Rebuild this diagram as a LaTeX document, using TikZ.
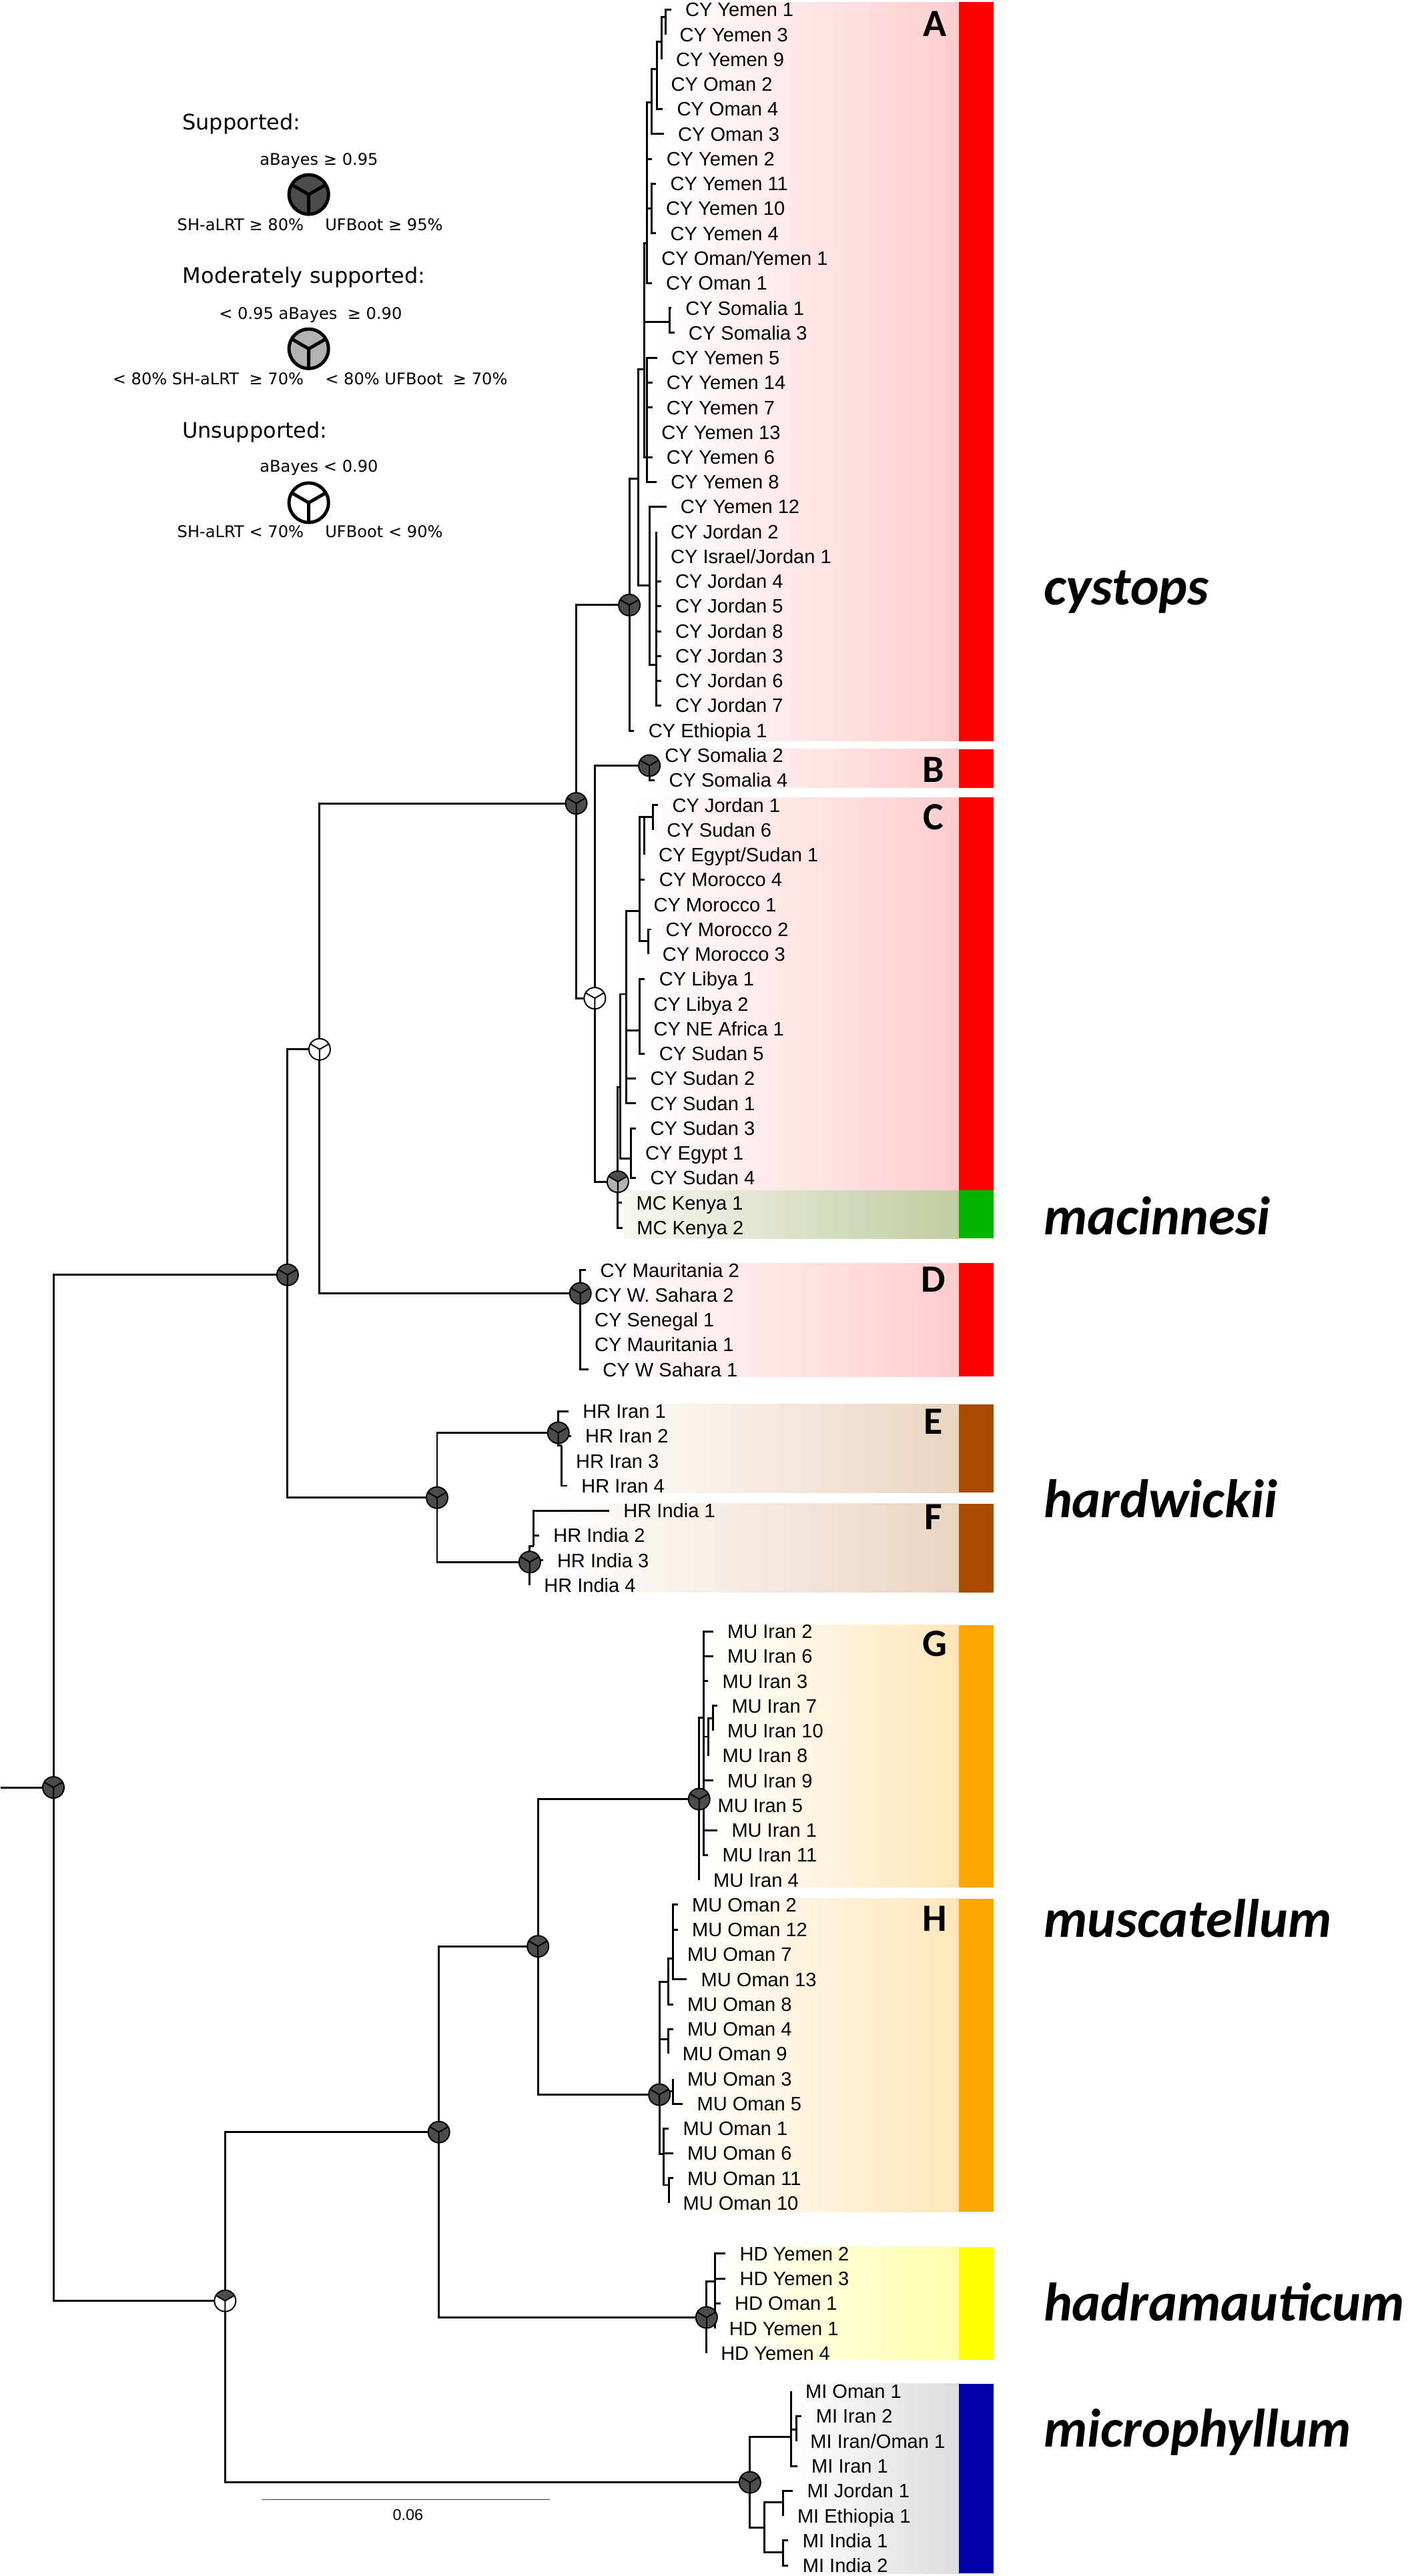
\documentclass[tikz,border=0pt]{standalone}
\usepackage{fontspec}
\setmainfont{Liberation Sans}
\newfontfamily\legfont{DejaVu Sans}
\newfontfamily\calfont{Carlito}
\definecolor{cyband}{RGB}{255,204,206}
\definecolor{mcband}{RGB}{192,204,160}
\definecolor{hrband}{RGB}{234,212,194}
\definecolor{muband}{RGB}{255,230,185}
\definecolor{hdband}{RGB}{255,255,170}
\definecolor{miband}{RGB}{220,220,220}
\definecolor{cybar}{RGB}{255,0,0}
\definecolor{mcbar}{RGB}{0,180,0}
\definecolor{hrbar}{RGB}{170,75,0}
\definecolor{mubar}{RGB}{255,165,0}
\definecolor{hdbar}{RGB}{255,255,0}
\definecolor{mibar}{RGB}{0,0,170}
\colorlet{suphigh}{black!70}
\colorlet{supmid}{black!30}
% support symbol: coordinate, radius, top, left, right, line width
\newcommand{\supnode}[6]{%
  \fill[#3] (#1) -- ++(30:#2) arc[start angle=30,end angle=150,radius=#2] -- cycle;
  \fill[#4] (#1) -- ++(150:#2) arc[start angle=150,end angle=270,radius=#2] -- cycle;
  \fill[#5] (#1) -- ++(270:#2) arc[start angle=270,end angle=390,radius=#2] -- cycle;
  \draw[line width=#6] (#1) circle[radius=#2] (#1) -- ++(30:#2) (#1) -- ++(150:#2) (#1) -- ++(270:#2);}
\begin{document}
\begin{tikzpicture}[x=1pt,y=-1pt,
  branch/.style={line width=1.2pt},
  leaflab/.style={anchor=west,inner sep=0pt,text height=8.4pt,text depth=0pt,font=\fontsize{11.8}{12}\selectfont},
  legtext/.style={inner sep=0pt,font=\legfont\fontsize{9.8}{10}\selectfont},
  leghead/.style={anchor=base west,inner sep=0pt,font=\legfont\fontsize{13}{14}\selectfont},
  cladeletter/.style={anchor=base,inner sep=0pt,font=\calfont\bfseries\fontsize{23.5}{24}\selectfont},
  species/.style={anchor=base west,inner sep=0pt,font=\calfont\bfseries\itshape\fontsize{33}{34}\selectfont}]
  \useasboundingbox (0,0) rectangle (864,1568);

  % Clade bands
  \shade[left color=white,right color=cyband] (400,1.4) rectangle (583.5,451.1);
  \shade[left color=white,right color=cyband] (400,456) rectangle (583.5,479.6);
  \shade[left color=white,right color=cyband] (385,485.3) rectangle (583.5,724.5);
  \shade[left color=mcband!15,right color=mcband] (380,724.5) rectangle (583.5,753.8);
  \shade[left color=white,right color=cyband] (358,768.8) rectangle (583.5,837.9);
  \shade[left color=white,right color=hrband] (348,854.8) rectangle (583.5,908.5);
  \shade[left color=white,right color=hrband] (330,915.2) rectangle (583.5,969.3);
  \shade[left color=white,right color=muband] (430,989.2) rectangle (583.5,1148.8);
  \shade[left color=white,right color=muband] (410,1155.6) rectangle (583.5,1346.4);
  \shade[left color=white,right color=hdband] (436,1367.6) rectangle (583.5,1436.5);
  \shade[left color=white,right color=miband] (480,1450.9) rectangle (583.5,1566.5);

  % Species bars
  \fill[cybar] (583.5,1.4) rectangle (604.8,451.1);
  \fill[cybar] (583.5,456) rectangle (604.8,479.6);
  \fill[cybar] (583.5,485.3) rectangle (604.8,724.5);
  \fill[mcbar] (583.5,724.5) rectangle (604.8,753.8);
  \fill[cybar] (583.5,768.8) rectangle (604.8,837.9);
  \fill[hrbar] (583.5,854.8) rectangle (604.8,908.5);
  \fill[hrbar] (583.5,915.2) rectangle (604.8,969.3);
  \fill[mubar] (583.5,989.2) rectangle (604.8,1148.8);
  \fill[mubar] (583.5,1155.6) rectangle (604.8,1346.4);
  \fill[hdbar] (583.5,1367.6) rectangle (604.8,1436.5);
  \fill[mibar] (583.5,1450.9) rectangle (604.8,1566.5);

  % Clade letters
  \node[cladeletter] (clA) at (568.8,22.3) {A};
  \node[cladeletter] (clB) at (568,476) {B};
  \node[cladeletter] (clC) at (568,504.9) {C};
  \node[cladeletter] (clD) at (568,786.5) {D};
  \node[cladeletter] (clE) at (568,872.9) {E};
  \node[cladeletter] (clF) at (568,931.1) {F};
  \node[cladeletter] (clG) at (569,1008.2) {G};
  \node[cladeletter] (clH) at (569,1175.3) {H};

  % Species names
  \node[species] (cys) at (635,368) {cystops};
  \node[species] (mac) at (635,751.5) {macinnesi};
  \node[species] (har) at (635,923.5) {hardwickii};
  \node[species] (mus) at (635,1179) {muscatellum};
  \node[species] (had) at (635,1412.5) {hadramauticum};
  \node[species] (mic) at (635,1489.5) {microphyllum};

  % Root
  \coordinate (stub) at (0.5,1088);
  \coordinate (n1) at (32.5,1088);
  \draw[branch] (stub) -- (n1);

  % Internal branches
  \foreach \p/\id/\x/\y in {
    n1/n2/175/776, n2/n3/194.5/638.7, n3/n4/350.7/489, n4/nA/383/368.3,
    nA/a1/388.4/291.5, a1/a2/392.2/224.8, a2/a3/393.9/147.9, a3/b1/396.6/62.4,
    b1/b2/399.7/42.1, b2/b3/402.7/25.5, b3/b4/405/10.2, a3/c1/396.6/127,
    a2/aS/407.7/195.8, a2/a4/393.9/278.4, a1/a5/395.5/356.2, a5/a6/399.5/404.6,
    n4/n11/362/607.6, n11/nB/395.2/466, n11/n12/376/719.3, n12/cC/377.3/661.7,
    cC/cC1/381/605.1, cC1/cC1a/389.1/554.7, cC1a/s1/392.2/497.1, s1/s1a/397.2/497.1,
    cC1a/s2/394.5/572.8, cC1/cC1b/389.1/627.4, cC/cC2/384.1/705.1,
    n3/nD/353.2/787.3, n2/n5/266/911.6, n5/nE/339.8/872.1, nE/e1/341.8/880,
    n5/nF/322.4/950.8, nF/f1/324.7/941,
    n1/n17/137/1400.5, n17/n16/267.1/1297.8, n16/n13/327.4/1184.7,
    n13/nG/425.5/1095.1, nG/g1/428.1/1045.4, g1/g2/431/1057.1, g2/g3/434/1045.9,
    n13/nH/401.3/1275, nH/h1/406.7/1206.2, h1/h2/409.6/1192.2, nH/h3/406.7/1241.2,
    nH/h4/409.6/1273, nH/h5/404/1311, h5/h6/407/1330,
    n16/nHD/430/1410.6, nHD/hd1/435.1/1388.6,
    n17/nMI/456.4/1511, nMI/m1/481.5/1483.5, m1/m2/484.5/1478.9,
    nMI/m3/465.1/1538.7, m3/m4/476.6/1523.1, m3/m5/476.4/1553.5}{
    \coordinate (\id) at (\x,\y);
    \draw[branch] (\p) |- (\id);
  }

  % Tips and labels
  \foreach \p/\id/\x/\y/\txt in {
    b4/tA1/408.4/5.9/CY Yemen 1, b4/tA2/405/21/CY Yemen 3, b3/tA3/402.7/36.2/CY Yemen 9,
    b2/tA4/399.7/51.3/CY Oman 2, b2/tA5/403.3/66.4/CY Oman 4, b1/tA6/404/81.6/CY Oman 3,
    a3/tA7/396.9/96.7/CY Yemen 2, c1/tA8/399.3/111.8/CY Yemen 11, c1/tA9/396.6/126.9/CY Yemen 10,
    c1/tA10/399.3/142.1/CY Yemen 4, a3/tA11/393.9/157.2/{CY Oman/Yemen 1}, a3/tA12/396.6/172.3/CY Oman 1,
    aS/tA13/408.5/187.5/CY Somalia 1, aS/tA14/410.4/202.6/CY Somalia 3,
    a4/tA15/400/217.7/CY Yemen 5, a4/tA16/397/232.9/CY Yemen 14, a4/tA17/397/248/CY Yemen 7,
    a4/tA18/393.9/263.1/CY Yemen 13, a4/tA19/397/278.2/CY Yemen 6, a4/tA20/399.6/293.4/CY Yemen 8,
    a5/tA21/405.5/308.5/CY Yemen 12, a6/tA22/399.5/323.6/CY Jordan 2, a6/tA23/399.5/338.8/{CY Israel/Jordan 1},
    a6/tA24/402.3/353.9/CY Jordan 4, a6/tA25/402.3/369/CY Jordan 5, a6/tA26/402.3/384.2/CY Jordan 8,
    a6/tA27/402.3/399.3/CY Jordan 3, a6/tA28/402.3/414.4/CY Jordan 6, a6/tA29/402.3/429.5/CY Jordan 7,
    nA/tA30/386/444.7/CY Ethiopia 1,
    nB/tB1/395.9/459.8/CY Somalia 2, nB/tB2/398.5/474.9/CY Somalia 4,
    s1a/tC1/400.5/490.1/CY Jordan 1, s1a/tC2/397.2/505.2/CY Sudan 6, s1/tC3/392.2/520.3/{CY Egypt/Sudan 1},
    cC1a/tC4/392.5/535.5/CY Morocco 4, cC1a/tC5/389.1/550.6/CY Morocco 1,
    s2/tC6/396.4/565.7/CY Morocco 2, s2/tC7/394.5/580.8/CY Morocco 3,
    cC1b/tC8/392.5/596/CY Libya 1, cC1b/tC9/389.1/611.1/CY Libya 2,
    cC1b/tC10/389.1/626.2/CY NE Africa 1, cC1b/tC11/392.5/641.4/CY Sudan 5,
    cC1/tC12/387.1/656.5/CY Sudan 2, cC1/tC13/387.1/671.6/CY Sudan 1,
    cC2/tC14/387.1/686.8/CY Sudan 3, cC2/tC15/384.1/701.9/CY Egypt 1, cC2/tC16/387.1/717/CY Sudan 4,
    n12/tM1/378.6/732.1/MC Kenya 1, n12/tM2/378.9/747.3/MC Kenya 2,
    nD/tD1/356.6/773.2/CY Mauritania 2, nD/tD2/353.2/788.3/CY W. Sahara 2, nD/tD3/353.2/803.4/CY Senegal 1,
    nD/tD4/353.2/818.5/CY Mauritania 1, nD/tD5/358.2/833.6/CY W Sahara 1,
    nE/tE1/346/859/HR Iran 1, nE/tE2/347.5/874.1/HR Iran 2, e1/tE3/341.8/889.3/HR Iran 3, e1/tE4/345.2/904.4/HR Iran 4,
    f1/tF1/370.8/919.5/HR India 1, f1/tF2/328.1/934.7/HR India 2, nF/tF3/330.4/949.8/HR India 3, nF/tF4/322.4/964.9/HR India 4,
    g1/tG1/434/993/MU Iran 2, g1/tG2/434/1008.1/MU Iran 6, g1/tG3/431/1023.3/MU Iran 3,
    g3/tG4/436.6/1038.4/MU Iran 7, g3/tG5/434/1053.5/MU Iran 10, g2/tG6/431/1068.7/MU Iran 8,
    g1/tG7/434/1083.8/MU Iran 9, g1/tG8/428.1/1098.9/MU Iran 5, g1/tG9/436.6/1114/MU Iran 1,
    g1/tG10/431/1129.2/MU Iran 11, nG/tG11/425.5/1144.3/MU Iran 4,
    h2/tH1/412.5/1159.4/MU Oman 2, h2/tH2/412.5/1174.6/MU Oman 12, h2/tH3/409.6/1189.7/MU Oman 7,
    h2/tH4/418/1204.8/MU Oman 13, h1/tH5/409.6/1220/MU Oman 8, h3/tH6/409.6/1235.1/MU Oman 4,
    h3/tH7/406.7/1250.2/MU Oman 9, h4/tH8/409.6/1265.3/MU Oman 3, h4/tH9/415.5/1280.5/MU Oman 5,
    h5/tH10/407/1295.6/MU Oman 1, h5/tH11/409.6/1310.7/MU Oman 6, h6/tH12/409.6/1325.9/MU Oman 11,
    h6/tH13/407/1341/MU Oman 10,
    hd1/tHD1/441.5/1371.8/HD Yemen 2, hd1/tHD2/441.5/1386.9/HD Yemen 3, hd1/tHD3/438.5/1402.1/HD Oman 1,
    hd1/tHD4/435.1/1417.2/HD Yemen 1, nHD/tHD5/430/1432.3/HD Yemen 4,
    m1/tMI1/481.5/1455.6/MI Oman 1, m2/tMI2/487.9/1470.7/MI Iran 2, m2/tMI3/484.5/1485.9/{MI Iran/Oman 1},
    m1/tMI4/485.2/1501/MI Iran 1, m4/tMI5/482.5/1516.1/MI Jordan 1, m4/tMI6/476.6/1531.3/MI Ethiopia 1,
    m5/tMI7/479.8/1546.4/MI India 1, m5/tMI8/479.8/1561.5/MI India 2}{
    \coordinate (\id) at (\x,\y);
    \draw[branch] (\p) |- (\id);
    \node[leaflab] (lab-\id) at ([xshift=8.5pt]\id) {\txt};
  }

  % Support values
  \foreach \n in {n1,n2,n4,n5,nA,nB,nD,nE,nF,n13,nG,nH,n16,nHD,nMI}{
    \supnode{\n}{6.5pt}{suphigh}{suphigh}{suphigh}{0.8pt}
  }
  \supnode{n3}{6.5pt}{white}{white}{white}{0.8pt}
  \supnode{n11}{6.5pt}{white}{white}{white}{0.8pt}
  \supnode{n12}{6.5pt}{suphigh}{supmid}{supmid}{0.8pt}
  \supnode{n17}{6.5pt}{suphigh}{white}{white}{0.8pt}

  % Scale bar
  \coordinate (sbl) at (159.5,1521.4);
  \coordinate (sbr) at (334.5,1521.4);
  \draw[line width=0.6pt,black!75] (sbl) -- (sbr);
  \node[inner sep=0pt,anchor=base,font=\fontsize{9.5}{10}\selectfont] (sblab) at (248.3,1534) {0.06};

  % Legend
  \node[leghead] (hsup) at (110.7,79) {Supported:};
  \node[legtext,anchor=base] (tsup) at (194.1,100.4) {aBayes ≥ 0.95};
  \coordinate (leg1) at (187.9,118.4);
  \node[legtext,anchor=base east] (lsup) at (185,140.3) {SH-aLRT ≥ 80\%};
  \node[legtext,anchor=base west] (rsup) at (197.7,140.3) {UFBoot ≥ 95\%};
  \supnode{leg1}{12pt}{suphigh}{suphigh}{suphigh}{2pt}

  \node[leghead] (hmod) at (111,172.4) {Moderately supported:};
  \node[legtext,anchor=base] (tmod) at (189,194.5) {< 0.95 aBayes \ ≥ 0.90};
  \coordinate (leg2) at (187.9,212.3);
  \node[legtext,anchor=base east] (lmod) at (185,234) {< 80\% SH-aLRT \ ≥ 70\%};
  \node[legtext,anchor=base west] (rmod) at (197.7,234) {< 80\% UFBoot \ ≥ 70\%};
  \supnode{leg2}{12pt}{supmid}{supmid}{supmid}{2pt}

  \node[leghead] (huns) at (110.7,266.6) {Unsupported:};
  \node[legtext,anchor=base] (tuns) at (194.1,287.5) {aBayes < 0.90};
  \coordinate (leg3) at (187.9,306);
  \node[legtext,anchor=base east] (luns) at (185,327) {SH-aLRT < 70\%};
  \node[legtext,anchor=base west] (runs) at (197.7,327) {UFBoot < 90\%};
  \supnode{leg3}{12pt}{white}{white}{white}{2pt}
\end{tikzpicture}
\end{document}
